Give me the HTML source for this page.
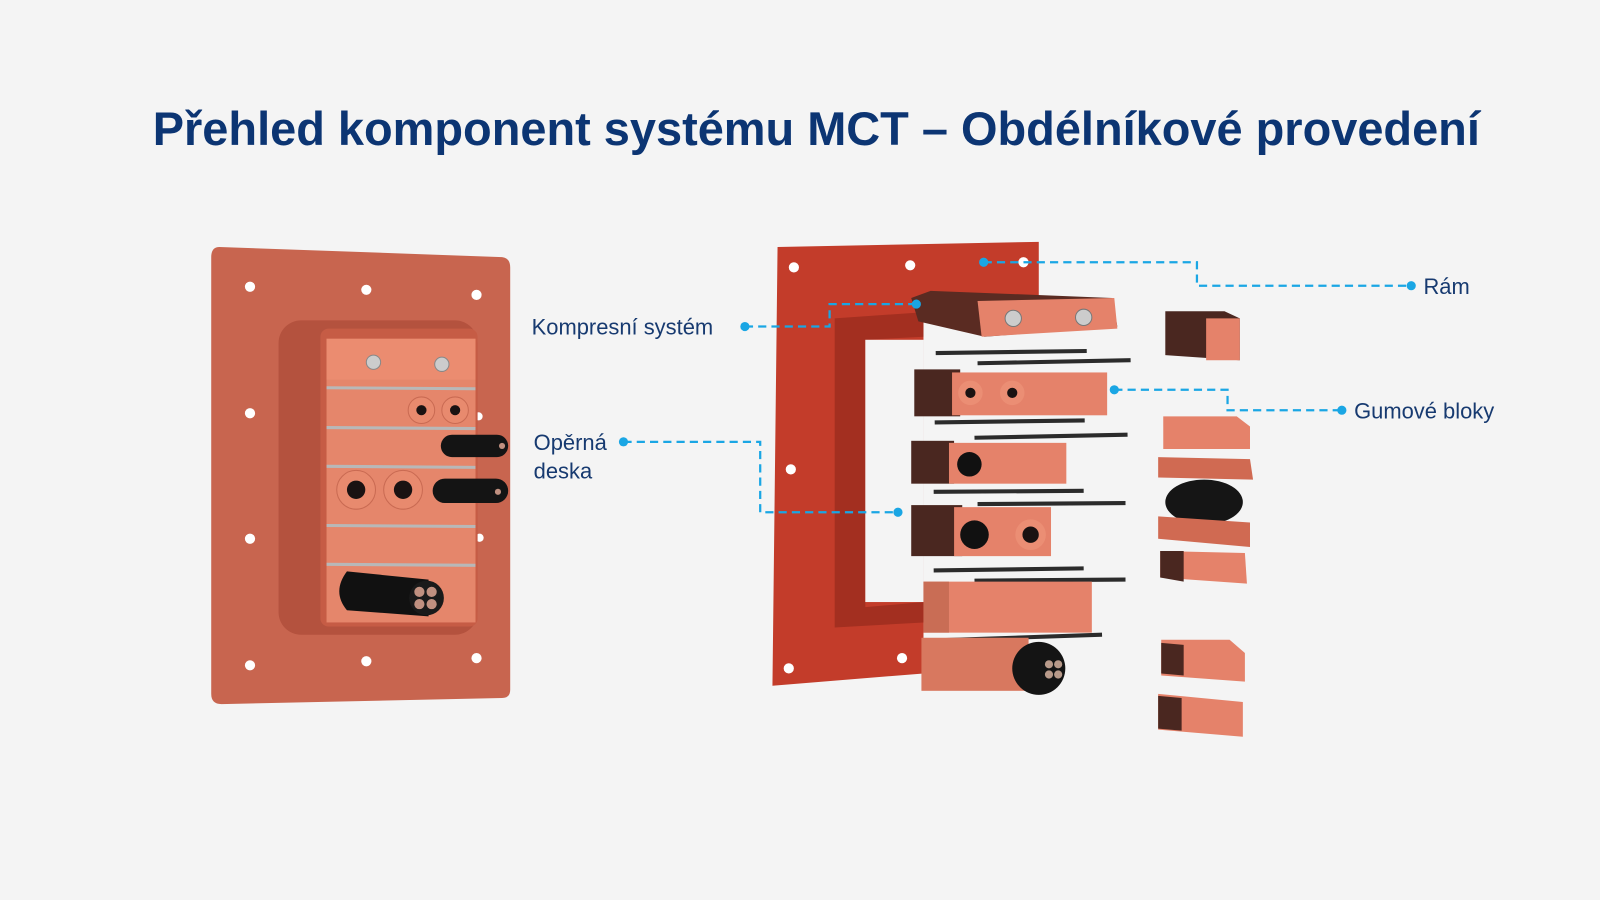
<!DOCTYPE html>
<html><head><meta charset="utf-8"><style>
html,body{margin:0;padding:0;background:#f4f4f4;}
svg{display:block}
</style></head><body>
<svg width="1600" height="900" viewBox="0 0 1568 882" preserveAspectRatio="none" xmlns="http://www.w3.org/2000/svg" font-family="Liberation Sans, DejaVu Sans, sans-serif">
<rect width="1568" height="882" fill="#f4f4f4"/>
<text x="800" y="142" text-anchor="middle" font-size="46" font-weight="bold" fill="#0c3573">Přehled komponent systému MCT – Obdélníkové provedení</text>

<!-- LEFT PLATE -->
<g>
<path d="M215,242 L492,252 Q500,253 500,262 L500,676 Q500,684 492,684 L217,690 Q207,690 207,680 L207,252 Q207,242 215,242Z" fill="#c8654f"/>
<g fill="#fff">
<circle cx="245" cy="281" r="5"/><circle cx="359" cy="284" r="5"/><circle cx="467" cy="289" r="5"/>
<circle cx="245" cy="405" r="5"/><circle cx="469" cy="408" r="4"/>
<circle cx="245" cy="528" r="5"/><circle cx="470" cy="527" r="4"/>
<circle cx="245" cy="652" r="5"/><circle cx="359" cy="648" r="5"/><circle cx="467" cy="645" r="5"/>
</g>
<rect x="273" y="314" width="195" height="308" rx="22" fill="#b4523e"/>
<rect x="314" y="322" width="154" height="292" rx="8" fill="#c65c45"/>
<rect x="320" y="332" width="146" height="278" fill="#e5866b"/>
<rect x="320" y="332" width="146" height="40" fill="#eb8c70"/>
<circle cx="366" cy="355" r="7" fill="#ccc" stroke="#888"/><circle cx="433" cy="357" r="7" fill="#ccc" stroke="#888"/>
<g stroke="#b8b8b8" stroke-width="3">
<line x1="320" y1="380" x2="466" y2="381"/><line x1="320" y1="419" x2="466" y2="420"/>
<line x1="320" y1="457" x2="466" y2="458"/><line x1="320" y1="515" x2="466" y2="516"/>
<line x1="320" y1="553" x2="466" y2="554"/>
</g>
<g fill="#e88a6e" stroke="#c96a52"><circle cx="413" cy="402" r="13"/><circle cx="446" cy="402" r="13"/><circle cx="349" cy="480" r="19"/><circle cx="395" cy="480" r="19"/></g>
<g fill="#1a1212"><circle cx="413" cy="402" r="5"/><circle cx="446" cy="402" r="5"/><circle cx="349" cy="480" r="9"/><circle cx="395" cy="480" r="9"/></g>
<rect x="432" y="426" width="66" height="22" rx="11" fill="#141414"/>
<rect x="424" y="469" width="74" height="24" rx="12" fill="#141414"/>
<path d="M340,560 L420,568 L420,604 L340,598 Q325,580 340,560Z" fill="#111"/>
<circle cx="418" cy="586" r="17" fill="#1a1a1a"/>
<g fill="#c09080"><circle cx="411" cy="580" r="5"/><circle cx="423" cy="580" r="5"/><circle cx="411" cy="592" r="5"/><circle cx="423" cy="592" r="5"/><circle cx="488" cy="482" r="3"/><circle cx="492" cy="437" r="3"/></g>
</g>

<!-- RIGHT FRAME -->
<g>
<path d="M762,242 L1018,237 L1018,300 L905,300 L905,590 L905,660 L757,672 Z" fill="#c33c2a"/>
<path d="M818,312 L905,306 L905,330 L848,333 L848,595 L905,590 L905,610 L818,615 Z" fill="#a32f20"/>
<rect x="848" y="333" width="57" height="257" fill="#f4f4f4"/>
<g fill="#fff"><circle cx="778" cy="262" r="5"/><circle cx="892" cy="260" r="5"/><circle cx="1003" cy="257" r="5"/><circle cx="775" cy="460" r="5"/><circle cx="773" cy="655" r="5"/><circle cx="884" cy="645" r="5"/></g>
</g>
<!-- compression -->
<path d="M912,285 L1090,292 L1095,320 L965,330 L900,315 L893,292Z" fill="#5a2b22"/>
<path d="M958,295 L1092,292 L1095,322 L962,330Z" fill="#e5826a"/>
<circle cx="993" cy="312" r="8" fill="#ccc" stroke="#777"/><circle cx="1062" cy="311" r="8" fill="#ccc" stroke="#777"/>
<!-- rails -->
<g stroke="#2b2b2b" stroke-width="4">
<line x1="917" y1="346" x2="1065" y2="344"/><line x1="958" y1="356" x2="1108" y2="353"/>
<line x1="916" y1="414" x2="1063" y2="412"/><line x1="955" y1="429" x2="1105" y2="426"/>
<line x1="915" y1="482" x2="1062" y2="481"/><line x1="958" y1="494" x2="1103" y2="493"/>
<line x1="915" y1="559" x2="1062" y2="557"/><line x1="955" y1="569" x2="1103" y2="568"/>
<line x1="905" y1="628" x2="1080" y2="622"/>
</g>
<!-- row1 -->
<rect x="896" y="362" width="45" height="46" fill="#4a2720"/>
<rect x="933" y="365" width="152" height="42" fill="#e5826a"/>
<circle cx="951" cy="385" r="12" fill="#eb8e74"/><circle cx="992" cy="385" r="12" fill="#eb8e74"/>
<circle cx="951" cy="385" r="5" fill="#1a1212"/><circle cx="992" cy="385" r="5" fill="#1a1212"/>
<!-- row2 -->
<rect x="893" y="432" width="42" height="42" fill="#4a2720"/>
<rect x="930" y="434" width="115" height="40" fill="#e5826a"/>
<circle cx="950" cy="455" r="12" fill="#111"/>
<!-- row3 -->
<rect x="893" y="495" width="50" height="50" fill="#4a2720"/>
<rect x="935" y="497" width="95" height="48" fill="#e5826a"/>
<circle cx="955" cy="524" r="14" fill="#111"/>
<circle cx="1010" cy="524" r="15" fill="#eb8e74"/><circle cx="1010" cy="524" r="8" fill="#1a1212"/>
<!-- row4 -->
<rect x="905" y="570" width="165" height="50" fill="#e5826a"/>
<rect x="905" y="570" width="25" height="50" fill="#c96d55"/>
<rect x="903" y="625" width="105" height="52" fill="#d8785f"/>
<circle cx="1018" cy="655" r="26" fill="#141414"/>
<g fill="#b89a8a"><circle cx="1028" cy="651" r="4"/><circle cx="1037" cy="651" r="4"/><circle cx="1028" cy="661" r="4"/><circle cx="1037" cy="661" r="4"/></g>
<!-- loose parts -->
<path d="M1142,305 L1200,305 L1215,312 L1215,353 L1142,348Z" fill="#4a2720"/>
<path d="M1182,312 L1215,312 L1215,353 L1182,353Z" fill="#e5826a"/>
<path d="M1140,408 L1212,408 L1225,418 L1225,440 L1140,440Z" fill="#e5826a"/>
<path d="M1135,448 L1225,450 L1228,470 L1135,468Z" fill="#d06a52"/>
<ellipse cx="1180" cy="492" rx="38" ry="22" fill="#151515"/>
<path d="M1135,506 L1225,512 L1225,536 L1135,528Z" fill="#d06a52"/>
<path d="M1137,540 L1220,542 L1222,572 L1137,566Z" fill="#e5826a"/>
<path d="M1138,627 L1205,627 L1220,640 L1220,668 L1138,662Z" fill="#e5826a"/>
<path d="M1135,680 L1218,688 L1218,722 L1135,715Z" fill="#e5826a"/>
<path d="M1137,540 L1160,540 L1160,570 L1137,566Z M1138,630 L1160,632 L1160,662 L1138,660Z M1135,682 L1158,684 L1158,716 L1135,714Z" fill="#4a2720"/>

<!-- CONNECTORS -->
<g fill="none" stroke="#1aa6e4" stroke-width="2.2" stroke-dasharray="8,5">
<polyline points="964,257 1173,257 1173,280 1383,280"/>
<polyline points="730,320 813,320 813,298 898,298"/>
<polyline points="1092,382 1203,382 1203,402 1315,402"/>
<polyline points="611,433 745,433 745,502 880,502"/>
</g>
<g fill="#1aa6e4">
<circle cx="964" cy="257" r="4.5"/><circle cx="1383" cy="280" r="4.5"/>
<circle cx="730" cy="320" r="4.5"/><circle cx="898" cy="298" r="4.5"/>
<circle cx="1092" cy="382" r="4.5"/><circle cx="1315" cy="402" r="4.5"/>
<circle cx="611" cy="433" r="4.5"/><circle cx="880" cy="502" r="4.5"/>
</g>
<g font-size="21.5" fill="#173a70">
<text x="1395" y="288">Rám</text>
<text x="521" y="328">Kompresní systém</text>
<text x="1327" y="410">Gumové bloky</text>
<text x="523" y="441">Opěrná</text>
<text x="523" y="469">deska</text>
</g>
</svg>
</body></html>
